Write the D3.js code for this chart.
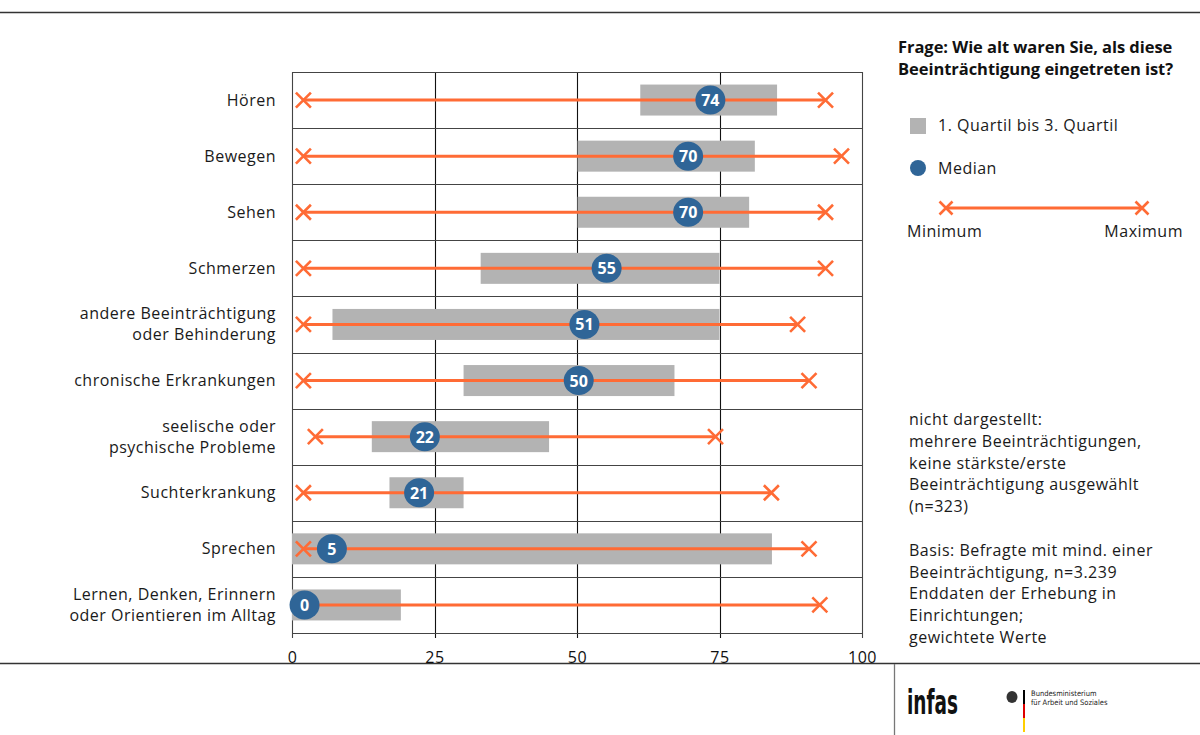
<!DOCTYPE html>
<html><head><meta charset="utf-8">
<script src="https://cdn.jsdelivr.net/npm/d3@7"></script>
<style>
html,body{margin:0;padding:0;background:#fff;}
svg{display:block;font-family:"Open Sans","Noto Sans",sans-serif;}
.t{font-size:16px;letter-spacing:0.5px;fill:#1a1a1a;}
</style></head>
<body><svg id="c" width="1200" height="735"></svg>
<script>
// ---- data ----
const categories = [
  ["Hören"], ["Bewegen"], ["Sehen"], ["Schmerzen"],
  ["andere Beeinträchtigung","oder Behinderung"],
  ["chronische Erkrankungen"],
  ["seelische oder","psychische Probleme"],
  ["Suchterkrankung"], ["Sprechen"],
  ["Lernen, Denken, Erinnern","oder Orientieren im Alltag"]
];
const q1      = [61.1, 50.1, 50.1, 33.1, 7.1, 30.1, 14.0, 17.1, 0, 0];
const q3      = [85.1, 81.2, 80.2, 75.0, 75.0, 67.1, 45.1, 30.1, 84.2, 19.1];
const medianPos   = [73.4, 69.5, 69.5, 55.2, 51.3, 50.3, 23.3, 22.3, 7.0, 2.2];
const medianLabel = [74, 70, 70, 55, 51, 50, 22, 21, 5, 0];
const minVal  = [2, 2, 2, 2, 2, 2, 4.1, 2, 2, 2];
const maxVal  = [93.6, 96.4, 93.6, 93.6, 88.7, 90.7, 74.3, 84.1, 90.7, 92.6];
const tickValues = [0, 25, 50, 75, 100];
const titleLines = ["Frage: Wie alt waren Sie, als diese","Beeinträchtigung eingetreten ist?"];
const noteLines = ["nicht dargestellt:","mehrere Beeinträchtigungen,","keine stärkste/erste","Beeinträchtigung ausgewählt","(n=323)","","Basis: Befragte mit mind. einer","Beeinträchtigung, n=3.239","Enddaten der Erhebung in","Einrichtungen;","gewichtete Werte"];

// ---- styling ----
const ORANGE = "#ff6b35", BLUE = "#2f6597", GRAY = "#b3b3b3";
const svg = d3.select("#c");
const x = d3.scaleLinear().domain([0,100]).range([292,862]);
const y = d3.scaleBand().domain(d3.range(categories.length)).range([72,633]).padding(0);
const cy = i => y(i) + y.bandwidth()/2;

// frame lines
svg.append("line").attr("x1",0).attr("x2",1200).attr("y1",12.5).attr("y2",12.5).attr("stroke","#333").attr("stroke-width",1.3);
svg.append("line").attr("x1",0).attr("x2",1200).attr("y1",663.5).attr("y2",663.5).attr("stroke","#333").attr("stroke-width",1.3);
svg.append("line").attr("x1",894.5).attr("x2",894.5).attr("y1",664).attr("y2",735).attr("stroke","#777").attr("stroke-width",1.3);

// grid: vertical lines
const g = svg.append("g");
g.selectAll("line.v").data(tickValues).join("line")
  .attr("x1",d=>Math.round(x(d))+0.5).attr("x2",d=>Math.round(x(d))+0.5)
  .attr("y1",72).attr("y2",638)
  .attr("stroke",(d,i)=> (i===0||i===4)?"#444":"#111").attr("stroke-width",1.1);
// horizontal row lines
const rowEdges = d3.range(categories.length+1).map(i=> i<categories.length? y(i) : 633);
g.selectAll("line.h").data(rowEdges).join("line")
  .attr("x1",292).attr("x2",862)
  .attr("y1",d=>Math.round(d)+0.5).attr("y2",d=>Math.round(d)+0.5)
  .attr("stroke","#444").attr("stroke-width",1.2);

// axis labels
const axis = d3.axisBottom(x).tickValues(tickValues).tickSize(0).tickPadding(0);
const ax = svg.append("g").attr("transform","translate(0,650)").call(axis);
ax.select(".domain").remove();
ax.selectAll("text").attr("font-size",16).attr("letter-spacing","0.5px").attr("fill","#111").attr("dy","0.8em")
  .attr("font-family","'Open Sans',sans-serif");

// category labels
const lab = svg.append("g");
categories.forEach((lines,i)=>{
  const t = lab.append("text").attr("class","t").attr("x",276).attr("text-anchor","end");
  const lh = 21;
  lines.forEach((s,k)=>{
    t.append("tspan").attr("x",276)
      .attr("y", cy(i) + 5.5 + (k - (lines.length-1)/2)*lh).text(s);
  });
});

// bars (quartiles)
svg.append("g").selectAll("rect").data(d3.range(categories.length)).join("rect")
  .attr("x",i=>x(q1[i])).attr("width",i=>x(q3[i])-x(q1[i]))
  .attr("y",i=>cy(i)-15.5).attr("height",31).attr("fill",GRAY);

// min-max lines
svg.append("g").selectAll("line").data(d3.range(categories.length)).join("line")
  .attr("x1",i=>x(minVal[i])).attr("x2",i=>x(maxVal[i]))
  .attr("y1",i=>cy(i)).attr("y2",i=>cy(i))
  .attr("stroke",ORANGE).attr("stroke-width",3);

// X markers
function cross(sel, cx, cyv, s){
  sel.append("path").attr("d",`M${cx-s},${cyv-s}L${cx+s},${cyv+s}M${cx-s},${cyv+s}L${cx+s},${cyv-s}`)
    .attr("stroke",ORANGE).attr("stroke-width",2.6).attr("fill","none");
}
const mk = svg.append("g");
d3.range(categories.length).forEach(i=>{
  cross(mk, x(minVal[i]), cy(i), 7.5);
  cross(mk, x(maxVal[i]), cy(i), 7.5);
});

// medians
const md = svg.append("g");
d3.range(categories.length).forEach(i=>{
  md.append("ellipse").attr("cx",x(medianPos[i])).attr("cy",cy(i)).attr("rx",15).attr("ry",14.5).attr("fill",BLUE);
  md.append("text").attr("x",x(medianPos[i])).attr("y",cy(i)+6)
    .attr("text-anchor","middle").attr("font-size",16).attr("font-weight","bold")
    .attr("fill","#fff").text(medianLabel[i]);
});

// title
const tt = svg.append("text").attr("font-size",16.5).attr("font-weight","bold").attr("fill","#111")
  .attr("letter-spacing","-0.05");
titleLines.forEach((s,k)=> tt.append("tspan").attr("x",898).attr("y",53+k*22).text(s));

// legend
svg.append("rect").attr("x",910).attr("y",118).attr("width",16).attr("height",16).attr("fill",GRAY);
svg.append("text").attr("class","t").attr("x",938).attr("y",131).text("1. Quartil bis 3. Quartil");
svg.append("circle").attr("cx",918).attr("cy",168).attr("r",8).attr("fill",BLUE);
svg.append("text").attr("class","t").attr("x",938).attr("y",174).text("Median");
svg.append("line").attr("x1",946).attr("x2",1142).attr("y1",208).attr("y2",208).attr("stroke",ORANGE).attr("stroke-width",3);
const lg = svg.append("g");
cross(lg,946,208,6.5); cross(lg,1142,208,6.5);
svg.append("text").attr("class","t").attr("x",907).attr("y",237).text("Minimum");
svg.append("text").attr("class","t").attr("x",1183).attr("y",237).attr("text-anchor","end").text("Maximum");

// notes
const nt = svg.append("text").attr("class","t");
noteLines.forEach((s,k)=> nt.append("tspan").attr("x",909).attr("y",425+k*21.8).text(s));

// logos
svg.append("text").attr("x",907).attr("y",714).attr("font-size",33).attr("font-weight","bold")
  .attr("font-family","'Liberation Sans Narrow','DejaVu Sans Condensed',sans-serif")
  .attr("textLength",51).attr("lengthAdjust","spacingAndGlyphs").attr("fill","#111").text("infas");
svg.append("ellipse").attr("cx",1012).attr("cy",697).attr("rx",5.5).attr("ry",6).attr("fill","#333");
svg.append("rect").attr("x",1023).attr("y",690).attr("width",2).attr("height",14).attr("fill","#000");
svg.append("rect").attr("x",1023).attr("y",704).attr("width",2).attr("height",14).attr("fill","#dd0000");
svg.append("rect").attr("x",1023).attr("y",718).attr("width",2).attr("height",14).attr("fill","#ffce00");
svg.append("text").attr("x",1031).attr("y",696).attr("font-size",7.5).attr("fill","#222")
  .attr("font-family","'Liberation Sans Narrow','DejaVu Sans Condensed',sans-serif").text("Bundesministerium");
svg.append("text").attr("x",1031).attr("y",705).attr("font-size",7.5).attr("fill","#222")
  .attr("font-family","'Liberation Sans Narrow','DejaVu Sans Condensed',sans-serif").text("für Arbeit und Soziales");
</script></body></html>
